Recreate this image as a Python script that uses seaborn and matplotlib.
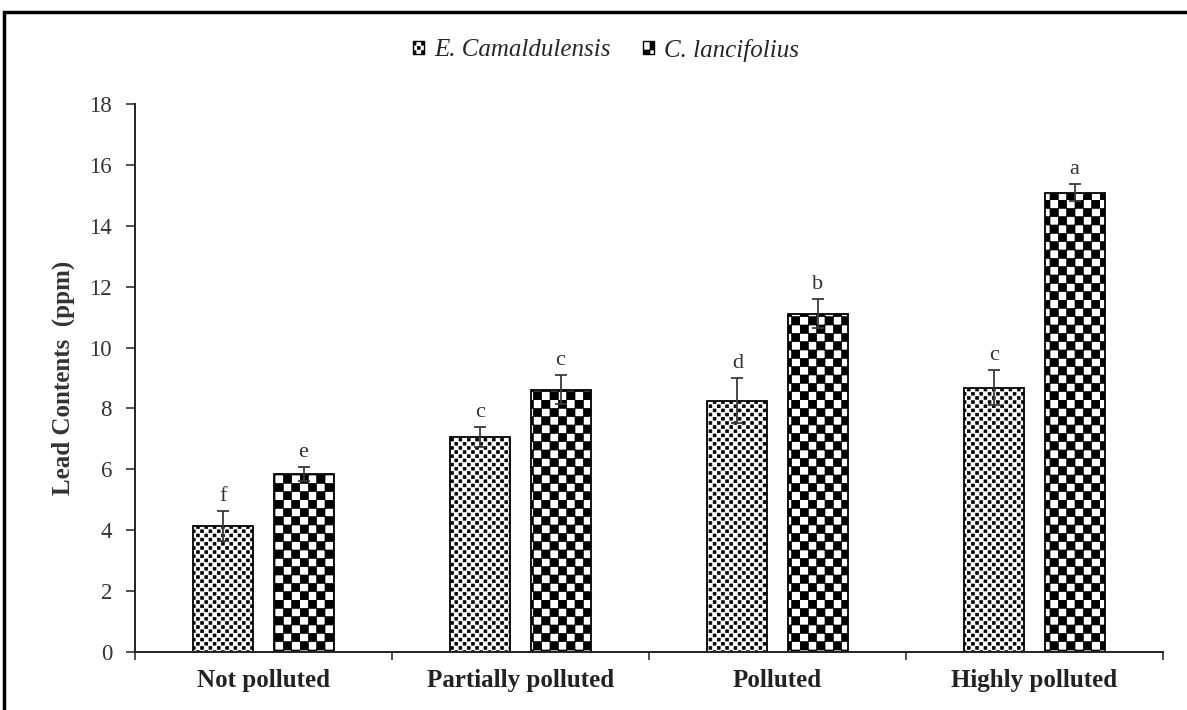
import numpy as np
import pandas as pd
import matplotlib
matplotlib.use("Agg")
import matplotlib.pyplot as plt
import matplotlib.hatch as mhatch
import matplotlib.patches as mpatches
from matplotlib.path import Path
from matplotlib.font_manager import FontProperties
import seaborn as sns

# ---------------- data ----------------
categories = ["Not polluted", "Partially polluted", "Polluted", "Highly polluted"]
species = ["E. Camaldulensis", "C. lancifolius"]
e_cam_mean = [4.13, 7.05, 8.26, 8.68]
e_cam_err = [0.49, 0.33, 0.75, 0.57]
c_lan_mean = [5.84, 8.62, 11.11, 15.09]
c_lan_err = [0.23, 0.49, 0.47, 0.28]
e_cam_letters = ["f", "c", "d", "c"]
c_lan_letters = ["e", "c", "b", "a"]
y_ticks = [0, 2, 4, 6, 8, 10, 12, 14, 16, 18]


# ---------------- custom hatches ----------------
SQ_CODES = [Path.MOVETO, Path.LINETO, Path.LINETO, Path.LINETO, Path.CLOSEPOLY]


def _square(x, y, d):
    return [[x - d / 2, y - d / 2], [x + d / 2, y - d / 2], [x + d / 2, y + d / 2],
            [x - d / 2, y + d / 2], [x - d / 2, y - d / 2]]


class DotHatch(mhatch.HatchPatternBase):
    """Staggered small filled squares (stipple) -- triggered by '*'."""
    def __init__(self, hatch, density):
        self.n = int(hatch.count('*') * density)
        self.num_vertices = self.n * 2 * self.n * 5 if self.n else 0

    def set_vertices_and_codes(self, vertices, codes):
        n = self.n
        sx = 1.0 / n
        sy = 1.0 / (2 * n)
        d = sx * 0.34
        verts = []
        for r in range(2 * n):
            yy = (r + 0.5) * sy
            shift = 0.25 * sx if r % 2 == 0 else 0.75 * sx
            for c in range(n):
                verts.append(_square(c * sx + shift, yy, d))
        vertices[:] = np.array(verts).reshape(-1, 2)
        codes[:] = np.tile(SQ_CODES, len(verts))


class CheckerHatch(mhatch.HatchPatternBase):
    """Checkerboard -- triggered by 'O'."""
    def __init__(self, hatch, density):
        n = int(hatch.count('O') * density)
        if n % 2:
            n += 1
        self.n = n
        self.num_vertices = (n * n // 2) * 5 if n else 0

    def set_vertices_and_codes(self, vertices, codes):
        n = self.n
        s = 1.0 / n
        verts = []
        for i in range(n):
            for j in range(n):
                if (i + j) % 2 == 0:
                    verts.append(_square((i + 0.5) * s, (j + 0.5) * s, s))
        vertices[:] = np.array(verts).reshape(-1, 2)
        codes[:] = np.tile(SQ_CODES, len(verts))


mhatch._hatch_types = [mhatch.HorizontalHatch, mhatch.VerticalHatch,
                       mhatch.NorthEastHatch, mhatch.SouthEastHatch,
                       mhatch.SmallCircles, mhatch.SmallFilledCircles,
                       DotHatch, CheckerHatch]

# ---------------- style ----------------
sns.set_theme(style="white")
plt.rcParams["font.family"] = ["Liberation Serif", "DejaVu Serif"]
plt.rcParams["hatch.linewidth"] = 0.5
plt.rcParams["hatch.color"] = "black"

W, H = 1187, 710
fig = plt.figure(figsize=(W / 100, H / 100), dpi=100)
ax = fig.add_axes([135 / W, 1 - 652 / H, 1028 / W, 548 / H])

df = pd.DataFrame({
    "Site": categories * 2,
    "Species": [species[0]] * len(categories) + [species[1]] * len(categories),
    "Lead": e_cam_mean + c_lan_mean,
})

sns.barplot(data=df, x="Site", y="Lead", hue="Species", order=categories,
            hue_order=species, palette=["white", "white"], edgecolor="black",
            linewidth=1.3, width=0.623, gap=0.25, errorbar=None, legend=False, ax=ax)

hatches = ["**", "OO"]
means = [e_cam_mean, c_lan_mean]
errs = [e_cam_err, c_lan_err]
letters = [e_cam_letters, c_lan_letters]

bar_containers = list(ax.containers)
for k, cont in enumerate(bar_containers):
    xs = []
    for p in cont.patches:
        p.set_hatch(hatches[k])
        p.set_edgecolor("black")
        xs.append(p.get_x() + p.get_width() / 2)
    ax.errorbar(xs, means[k], yerr=errs[k], fmt="none", ecolor="#3a3a3a",
                elinewidth=1.3, capsize=4.6, capthick=1.3, zorder=5)
    for x, m, e, t in zip(xs, means[k], errs[k], letters[k]):
        ax.text(x, m + e + 0.33, t, ha="center", va="baseline", fontsize=16,
                color="#333333")

# axes
ax.set_xlim(-0.5, len(categories) - 0.5)
ax.set_ylim(0, 18)
ax.set_yticks(y_ticks)
ax.set_yticklabels([str(v) for v in y_ticks], fontsize=16.5, color="#333333")
ax.set_xticks(range(len(categories)))
ax.set_xticklabels(categories, fontsize=18, fontweight="bold", color="#222222")
ax.set_xticks(np.arange(-0.5, len(categories), 1.0), minor=True)
ax.tick_params(axis="x", which="major", length=0, pad=12)
ax.tick_params(axis="x", which="minor", length=6, width=1.2, direction="out",
               color="#333333", bottom=True)
ax.tick_params(axis="y", which="major", length=6.5, width=1.2, direction="out",
               pad=10, color="#333333", left=True)
ax.set_xlabel("")
ax.set_ylabel("Lead Contents  (ppm)", fontsize=18, fontweight="bold", color="#333333")
ax.yaxis.set_label_coords(-0.058, 0.5)

for s in ["top", "right"]:
    ax.spines[s].set_visible(False)
for s in ["left", "bottom"]:
    ax.spines[s].set_linewidth(1.4)
    ax.spines[s].set_color("#222222")

# legend
handles = [mpatches.Patch(facecolor="white", edgecolor="black", hatch=h, linewidth=1.0)
           for h in hatches]
fig.legend(handles, species, loc="center", bbox_to_anchor=(606 / W, 1 - 50 / H),
           ncol=2, frameon=False,
           prop=FontProperties(family="Liberation Serif", style="italic", size=18),
           handlelength=0.45, handleheight=0.45, handletextpad=0.4,
           columnspacing=1.3)

# outer frame of the figure image
fig.patches.append(mpatches.Rectangle((4 / W, -0.1), 1.2, 1 - 12 / H + 0.1,
                                      transform=fig.transFigure, fill=False,
                                      linewidth=2.5, edgecolor="black"))

fig.savefig("out.png", dpi=100)
